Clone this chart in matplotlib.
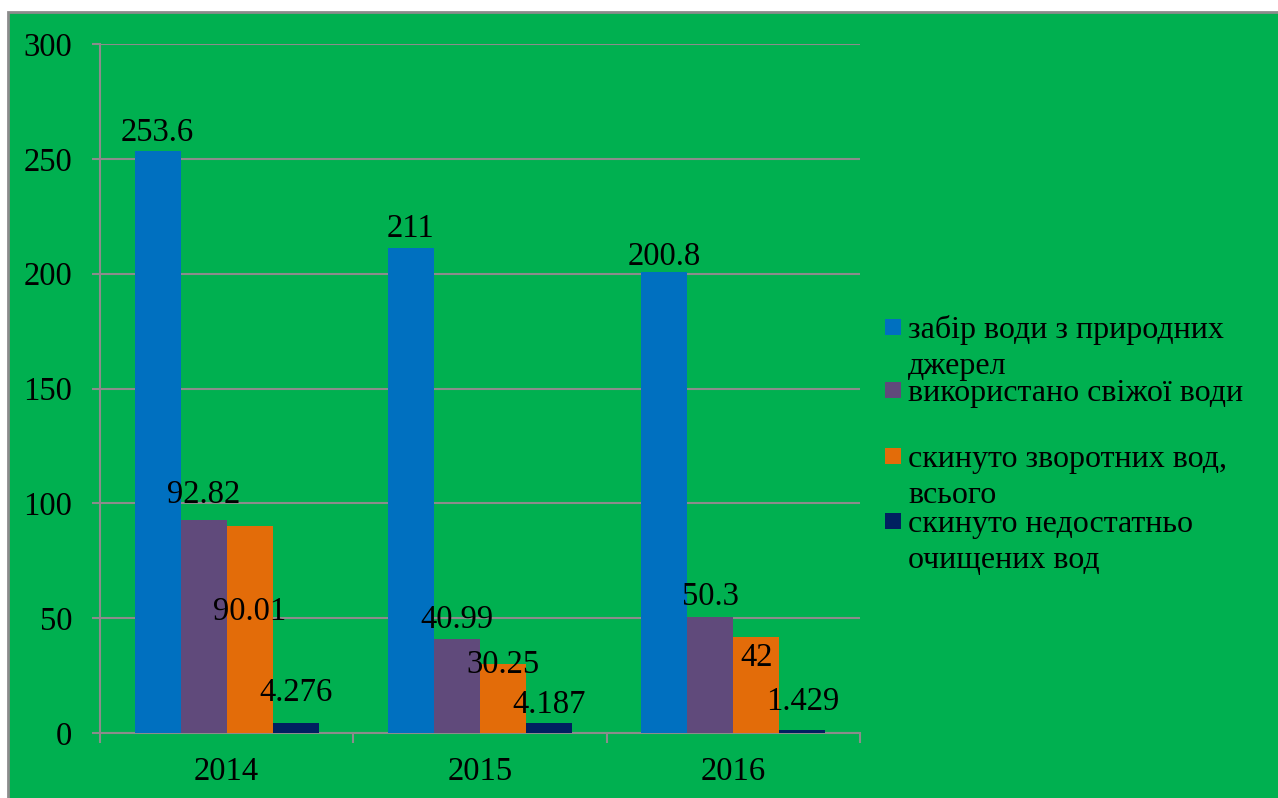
import matplotlib

matplotlib.use("Agg")
import matplotlib.pyplot as plt
import numpy as np
from matplotlib.patches import Rectangle

# data
years = ["2014", "2015", "2016"]
series_names = [
    "забір води з природних\nджерел",
    "використано свіжої води",
    "скинуто зворотних вод,\nвсього",
    "скинуто недостатньо\nочищених вод",
]
intake = [253.6, 211, 200.8]
fresh_used = [92.82, 40.99, 50.3]
returned = [90.01, 30.25, 42]
poorly_treated = [4.276, 4.187, 1.429]
label_text = [
    ["253.6", "211", "200.8"],
    ["92.82", "40.99", "50.3"],
    ["90.01", "30.25", "42"],
    ["4.276", "4.187", "1.429"],
]
# where the data labels sit (y of label centre, data units) -- manual in the original
label_y = [
    [261.2, 219.4, 207.2],
    [103.6, 49.2, 59.2],
    [52.7, 29.6, 32.7],
    [17.4, 12.2, 13.5],
]

colors = ["#0070C0", "#604A7B", "#E36C09", "#002060"]
GREEN = "#00B050"
GRID = "#8C8C8C"
FONT = ["Liberation Serif", "DejaVu Serif"]
FS = 23.5

plt.rcParams["font.family"] = FONT

W, H = 1278, 798
fig = plt.figure(figsize=(W / 100, H / 100), dpi=100)
fig.patch.set_facecolor("white")
fig.patches.append(Rectangle((8 / W, -0.1), 1.2, 1.1 - 12 / H, transform=fig.transFigure,
                             facecolor=GREEN, edgecolor=GRID, linewidth=2, zorder=-1))

ax = fig.add_axes([100 / W, (H - 733) / H, 760 / W, 689 / H])
ax.set_facecolor(GREEN)

series = [intake, fresh_used, returned, poorly_treated]
x = np.arange(len(years))
w = 1 / 5.5
for i, vals in enumerate(series):
    xs = x + (i - 1.5) * w
    ax.bar(xs, vals, width=w, color=colors[i], zorder=3)
    for j, xv in enumerate(xs):
        ax.text(xv, label_y[i][j], label_text[i][j], ha="center", va="center",
                fontsize=FS, color="black", zorder=4)

ax.set_xlim(-0.5, 2.5)
ax.set_ylim(0, 300)
ax.set_yticks(range(0, 301, 50))
ax.set_xticks(x)
ax.set_xticklabels(years)
ax.set_xticks([-0.5, 0.5, 1.5, 2.5], minor=True)
ax.tick_params(axis="x", which="major", length=0, pad=17, labelsize=FS)
ax.tick_params(axis="x", which="minor", length=7, width=1.5, color=GRID)
ax.tick_params(axis="y", length=6, width=1.5, color=GRID, pad=14, labelsize=FS)
ax.yaxis.grid(True, color=GRID, linewidth=1.5, zorder=0)
for s in ["top", "right"]:
    ax.spines[s].set_visible(False)
for s in ["left", "bottom"]:
    ax.spines[s].set_color(GRID)
    ax.spines[s].set_linewidth(1.5)

# legend drawn by hand: entries evenly spaced like the original
entry_baseline = [338, 401, 467, 532]
line_step = 36
for i, name in enumerate(series_names):
    b = entry_baseline[i]
    fig.patches.append(Rectangle((885 / W, 1 - (b - 3) / H), 16 / W, 16 / H,
                                 transform=fig.transFigure, facecolor=colors[i],
                                 edgecolor="none"))
    for k, line in enumerate(name.split("\n")):
        fig.text(908 / W, 1 - (b + k * line_step) / H, line, ha="left",
                 va="baseline", fontsize=FS - 0.5, color="black")

fig.savefig("out.png", dpi=100, facecolor=fig.get_facecolor())
